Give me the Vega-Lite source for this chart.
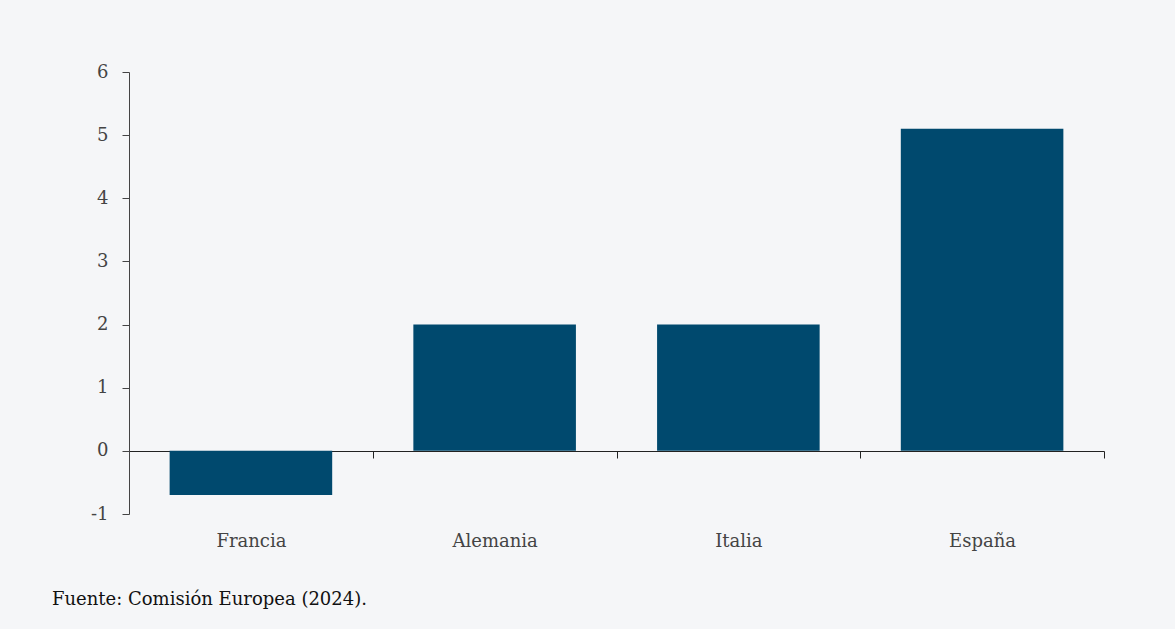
{
  "$schema": "https://vega.github.io/schema/vega-lite/v6.json",
  "width": 975,
  "height": 442,
  "autosize": {"type": "none"},
  "padding": {"left": 129, "top": 72, "right": 71, "bottom": 115},
  "background": "#f5f6f8",
  "config": {
    "view": {"stroke": null},
    "font": "DejaVu Serif"
  },
  "title": {
    "text": "Fuente: Comisión Europea (2024).",
    "orient": "bottom",
    "anchor": "start",
    "frame": "group",
    "dx": -77,
    "offset": 41,
    "font": "DejaVu Serif",
    "fontSize": 18,
    "fontWeight": "normal",
    "color": "#111111"
  },
  "data": {
    "values": [
      {"pais": "Francia", "valor": -0.7},
      {"pais": "Alemania", "valor": 2.0},
      {"pais": "Italia", "valor": 2.0},
      {"pais": "España", "valor": 5.1}
    ]
  },
  "mark": {"type": "bar", "color": "#00496e"},
  "encoding": {
    "x": {
      "field": "pais",
      "type": "nominal",
      "sort": null,
      "title": null,
      "scale": {"paddingInner": 0.333, "paddingOuter": 0.1667},
      "axis": {
        "offset": -63,
        "labelAngle": 0,
        "tickOffset": 121.9,
        "labelOffset": -121.9,
        "domainColor": "#222222",
        "tickColor": "#222222",
        "tickSize": 7,
        "labelPadding": 74,
        "labelFont": "DejaVu Serif",
        "labelFontSize": 18,
        "labelColor": "#444444",
        "grid": false
      }
    },
    "y": {
      "field": "valor",
      "type": "quantitative",
      "title": null,
      "scale": {"domain": [-1, 6], "nice": false},
      "axis": {
        "values": [-1, 0, 1, 2, 3, 4, 5, 6],
        "labelExpr": "'' + datum.value",
        "grid": false,
        "domainColor": "#444444",
        "tickColor": "#444444",
        "tickSize": 7,
        "labelPadding": 14,
        "labelFont": "DejaVu Serif",
        "labelFontSize": 18,
        "labelColor": "#444444"
      }
    }
  }
}
